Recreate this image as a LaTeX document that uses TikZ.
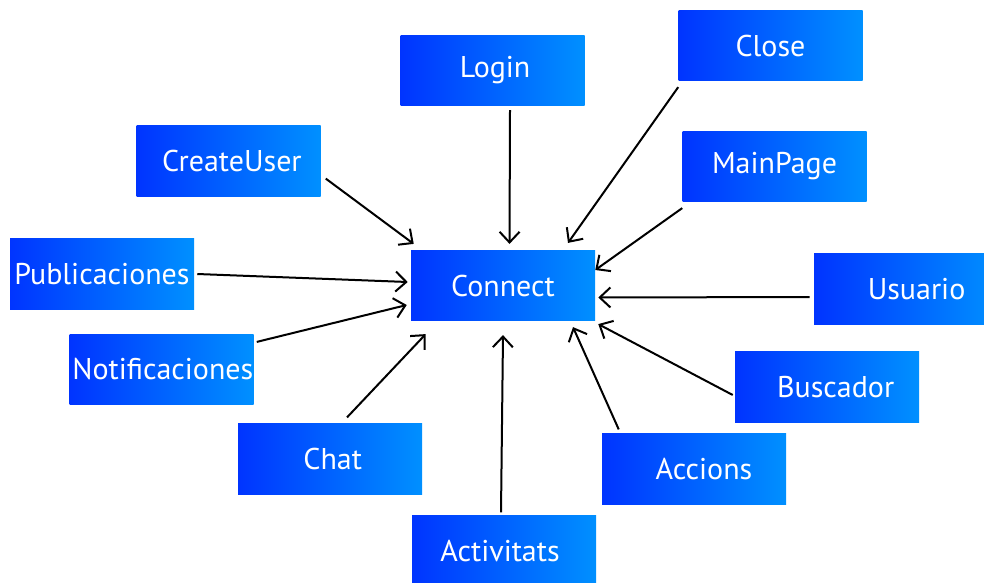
\documentclass[tikz,border=0pt]{standalone}
\usepackage{fontspec}
\setmainfont{PT Sans}
\usetikzlibrary{arrows.meta,calc}
\definecolor{boxleft}{RGB}{0,52,255}
\definecolor{boxright}{RGB}{0,144,255}
\tikzset{
    box/.style={rectangle, minimum width=138pt, minimum height=53pt, inner sep=0pt,
        left color=boxleft, right color=boxright, text=white, font=\fontsize{22.5}{26}\selectfont},
    arr/.style={-{Straight Barb[length=8pt,width=15pt,line width=1.5pt]}, line width=1.5pt, black}
}
\begin{document}
\begin{tikzpicture}[x=0.75pt,y=-0.75pt]
    \useasboundingbox (0,0) rectangle (984,582);
    \begin{scope}
        \clip (0,0) rectangle (984,582);
        \node[box] (connect) at (503,285.5) {Connect};
        \node[box] (login) at (492.5,70.5) {\hspace*{4pt}Login};
        \node[box] (close) at (770.5,45.5) {Close};
        \node[box] (createuser) at (228.5,161) {\hspace*{5pt}CreateUser};
        \node[box] (mainpage) at (774.5,166.5) {MainPage};
        \node[box] (publicaciones) at (102,274) {Publicaciones};
        \node[box, text width=125pt, align=right] (usuario) at (906,289) {Usuario\hspace*{18pt}};
        \node[box] (notificaciones) at (161.5,369.5) {\hspace*{2pt}Notificaciones};
        \node[box] (buscador) at (827,387) {\hspace*{13pt}Buscador};
        \node[box] (chat) at (330,459) {\hspace*{4pt}Chat};
        \node[box] (accions) at (694,469) {\hspace*{15pt}Accions};
        \node[box] (activitats) at (504,551) {Activitats\hspace*{6pt}};
    \end{scope}
    \draw[arr] ($(login.south)+(17.5,4)$) -- ($(connect.north)+(6.5,-6)$);
    \draw[arr] ($(close.south west)+(0,6)$) -- ($(connect.north)+(65,-7)$);
    \draw[arr] ($(createuser.south east)+(5,-18)$) -- ($(connect.north west)+(3,-6)$);
    \draw[arr] ($(mainpage.south west)+(0,6)$) -- ($(connect.east)+(0,-15.5)$);
    \draw[arr] ($(publicaciones.east)+(3,0)$) -- ($(connect.west)+(-3,-3.5)$);
    \draw[arr] ($(usuario.west)+(-4,8)$) -- ($(connect.east)+(3,12)$);
    \draw[arr] ($(notificaciones.north east)+(3,8)$) -- ($(connect.west)+(-4,19.5)$);
    \draw[arr] ($(buscador.west)+(-2,8)$) -- ($(connect.south east)+(3,3)$);
    \draw[arr] ($(chat.north)+(17,-6)$) -- ($(connect.south west)+(15,13)$);
    \draw[arr] ($(accions.north west)+(17,-4)$) -- ($(connect.south)+(70,6)$);
    \draw[arr] ($(activitats.north)+(-3,-3)$) -- ($(connect.south)+(0,14)$);
\end{tikzpicture}
\end{document}
